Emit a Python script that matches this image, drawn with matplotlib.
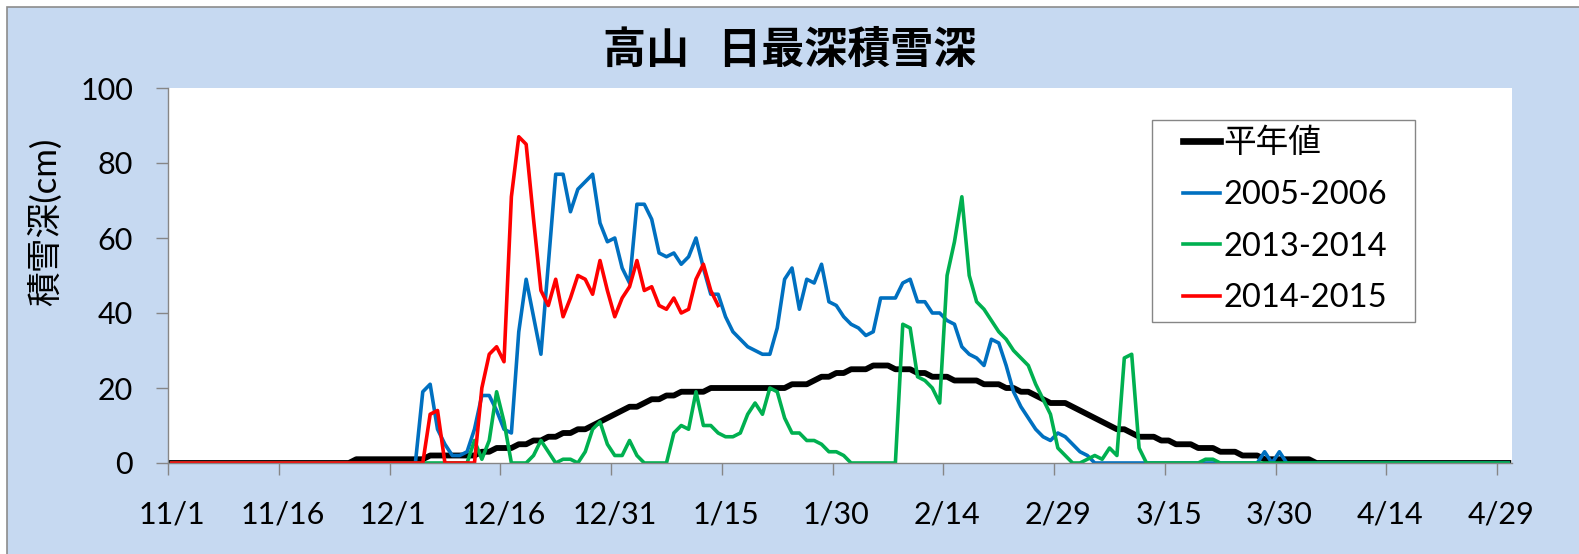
import numpy as np
import matplotlib
matplotlib.use('Agg')
import matplotlib.pyplot as plt
from matplotlib.patches import Rectangle
from matplotlib.lines import Line2D

plt.rcParams['font.family'] = ['Lato', 'Noto Sans CJK JP']

# day 0 = 11/1 ... day 181 = 4/30 (leap-year calendar)
tick_labels = ['11/1', '11/16', '12/1', '12/16', '12/31', '1/15', '1/30',
               '2/14', '2/29', '3/15', '3/30', '4/14', '4/29']
series_names = ['平年値', '2005-2006', '2013-2014', '2014-2015']

normal = [
    0, 0, 0, 0, 0, 0, 0, 0, 0, 0, 0, 0, 0, 0, 0,
    0, 0, 0, 0, 0, 0, 0, 0, 0, 0, 1, 1, 1, 1, 1,
    1, 1, 1, 1, 1, 2, 2, 2, 2, 2, 2, 2, 3, 3, 4,
    4, 4, 5, 5, 6, 6, 7, 7, 8, 8, 9, 9, 10, 11, 12,
    13, 14, 15, 15, 16, 17, 17, 18, 18, 19, 19, 19, 19, 20, 20,
    20, 20, 20, 20, 20, 20, 20, 20, 20, 21, 21, 21, 22, 23, 23,
    24, 24, 25, 25, 25, 26, 26, 26, 25, 25, 25, 24, 24, 23, 23,
    23, 22, 22, 22, 22, 21, 21, 21, 20, 20, 19, 19, 18, 17, 16,
    16, 16, 15, 14, 13, 12, 11, 10, 9, 9, 8, 7, 7, 7, 6,
    6, 5, 5, 5, 4, 4, 4, 3, 3, 3, 2, 2, 2, 1, 1,
    1, 1, 1, 1, 1, 0, 0, 0, 0, 0, 0, 0, 0, 0, 0,
    0, 0, 0, 0, 0, 0, 0, 0, 0, 0, 0, 0, 0, 0, 0,
    0, 0,
]

s2005 = [
    0, 0, 0, 0, 0, 0, 0, 0, 0, 0, 0, 0, 0, 0, 0,
    0, 0, 0, 0, 0, 0, 0, 0, 0, 0, 0, 0, 0, 0, 0,
    0, 0, 0, 0, 19, 21, 9, 5, 2, 2, 3, 9, 18, 18, 14,
    9, 8, 35, 49, 39, 29, 53, 77, 77, 67, 73, 75, 77, 64, 59,
    60, 52, 48, 69, 69, 65, 56, 55, 56, 53, 55, 60, 52, 45, 45,
    39, 35, 33, 31, 30, 29, 29, 36, 49, 52, 41, 49, 48, 53, 43,
    42, 39, 37, 36, 34, 35, 44, 44, 44, 48, 49, 43, 43, 40, 40,
    38, 37, 31, 29, 28, 26, 33, 32, 26, 19, 15, 12, 9, 7, 6,
    8, 7, 5, 3, 2, 0, 0, 0, 0, 0, 0, 0, 0, 0, 0,
    0, 0, 0, 0, 0, 0, 0, 0, 0, 0, 0, 0, 0, 3, 0,
    3, 0, 0, 0, 0, 0, 0, 0, 0, 0, 0, 0, 0, 0, 0,
    0, 0, 0, 0, 0, 0, 0, 0, 0, 0, 0, 0, 0, 0, 0,
    0, 0,
]

s2013 = [
    0, 0, 0, 0, 0, 0, 0, 0, 0, 0, 0, 0, 0, 0, 0,
    0, 0, 0, 0, 0, 0, 0, 0, 0, 0, 0, 0, 0, 0, 0,
    0, 0, 0, 0, 0, 0, 0, 0, 0, 0, 0, 6, 1, 6, 19,
    11, 0, 0, 0, 2, 6, 3, 0, 1, 1, 0, 3, 9, 11, 5,
    2, 2, 6, 2, 0, 0, 0, 0, 8, 10, 9, 19, 10, 10, 8,
    7, 7, 8, 13, 16, 13, 20, 19, 12, 8, 8, 6, 6, 5, 3,
    3, 2, 0, 0, 0, 0, 0, 0, 0, 37, 36, 23, 22, 20, 16,
    50, 59, 71, 50, 43, 41, 38, 35, 33, 30, 28, 26, 21, 17, 13,
    4, 2, 0, 0, 1, 2, 1, 4, 2, 28, 29, 4, 0, 0, 0,
    0, 0, 0, 0, 0, 1, 1, 0, 0, 0, 0, 0, 0, 0, 0,
    0, 0, 0, 0, 0, 0, 0, 0, 0, 0, 0, 0, 0, 0, 0,
    0, 0, 0, 0, 0, 0, 0, 0, 0, 0, 0, 0, 0, 0, 0,
    0, 0,
]

s2014 = [
    0, 0, 0, 0, 0, 0, 0, 0, 0, 0, 0, 0, 0, 0, 0,
    0, 0, 0, 0, 0, 0, 0, 0, 0, 0, 0, 0, 0, 0, 0,
    0, 0, 0, 0, 0, 13, 14, 0, 0, 0, 0, 0, 20, 29, 31,
    27, 71, 87, 85, 65, 46, 42, 49, 39, 44, 50, 49, 45, 54, 46,
    39, 44, 47, 54, 46, 47, 42, 41, 44, 40, 41, 49, 53, 46, 42,
]

days = np.arange(len(normal))
red = np.full(len(days), np.nan)
red[:len(s2014)] = s2014

W, H = 1579, 554
fig = plt.figure(figsize=(W / 100, H / 100), dpi=100, facecolor='white')
bg = '#C6D9F1'
fig.patches.append(Rectangle((7 / W, -0.1), 1.2, 1 - 7 / H + 0.1,
                             transform=fig.transFigure, facecolor=bg,
                             edgecolor='#8C8C8C', linewidth=1.2, zorder=-5))

ax = fig.add_axes([168 / W, 1 - 463 / H, (1512 - 168) / W, (463 - 88) / H])
ax.set_zorder(1)
ax.set_facecolor('white')

ax.plot(days, normal, color='black', lw=4.2, solid_joinstyle='round')
ax.plot(days, s2005, color='#0070C0', lw=2.6, solid_joinstyle='round')
ax.plot(days, s2013, color='#00B050', lw=2.6, solid_joinstyle='round')
ax.plot(days, red, color='#FF0000', lw=2.6, solid_joinstyle='round')

ax.set_xlim(-0.5, len(days) - 0.5)
ax.set_ylim(0, 100)
ax.set_yticks(np.arange(0, 101, 20))
ax.set_xticks(np.arange(0, 181, 15))
ax.set_xticklabels(tick_labels)
ax.set_xticks(np.arange(0, 181, 15) - 0.5, minor=True)

grey = '#868686'
for s in ['top', 'right']:
    ax.spines[s].set_visible(False)
for s in ['left', 'bottom']:
    ax.spines[s].set_color(grey)
    ax.spines[s].set_linewidth(1.0)

ax.tick_params(axis='y', length=8.6, width=1.0, color=grey, pad=16.5,
               labelsize=22)
ax.tick_params(axis='x', which='major', length=0, pad=27, labelsize=22)
ax.tick_params(axis='x', which='minor', length=8.6, width=1.0, color=grey)

fig.text(0.5, 1 - 50 / H, '高山   日最深積雪深', ha='center', va='center',
         fontsize=31, fontweight='bold', family='Noto Sans CJK JP')
fig.text(45 / W, 1 - 222 / H, '積雪深(cm)', rotation=90, ha='center',
         va='center', fontsize=25)

# legend
fig.patches.append(Rectangle((1152 / W, 1 - 322 / H), (1415 - 1152) / W,
                             (322 - 120) / H, transform=fig.transFigure,
                             facecolor='white', edgecolor=grey, lw=1.0,
                             zorder=3))
handles = [Line2D([], [], color='black', lw=4.8),
           Line2D([], [], color='#0070C0', lw=2.6),
           Line2D([], [], color='#00B050', lw=2.6),
           Line2D([], [], color='#FF0000', lw=2.6)]
leg = fig.legend(handles, series_names, loc='upper left',
                 bbox_to_anchor=(1183 / W, 1 - 128 / H), frameon=False,
                 fontsize=23.5, handlelength=1.12, handletextpad=0.12,
                 labelspacing=0.66, borderpad=0, borderaxespad=0)
leg.set_zorder(4)

fig.savefig('out.png', dpi=100, facecolor=fig.get_facecolor())
